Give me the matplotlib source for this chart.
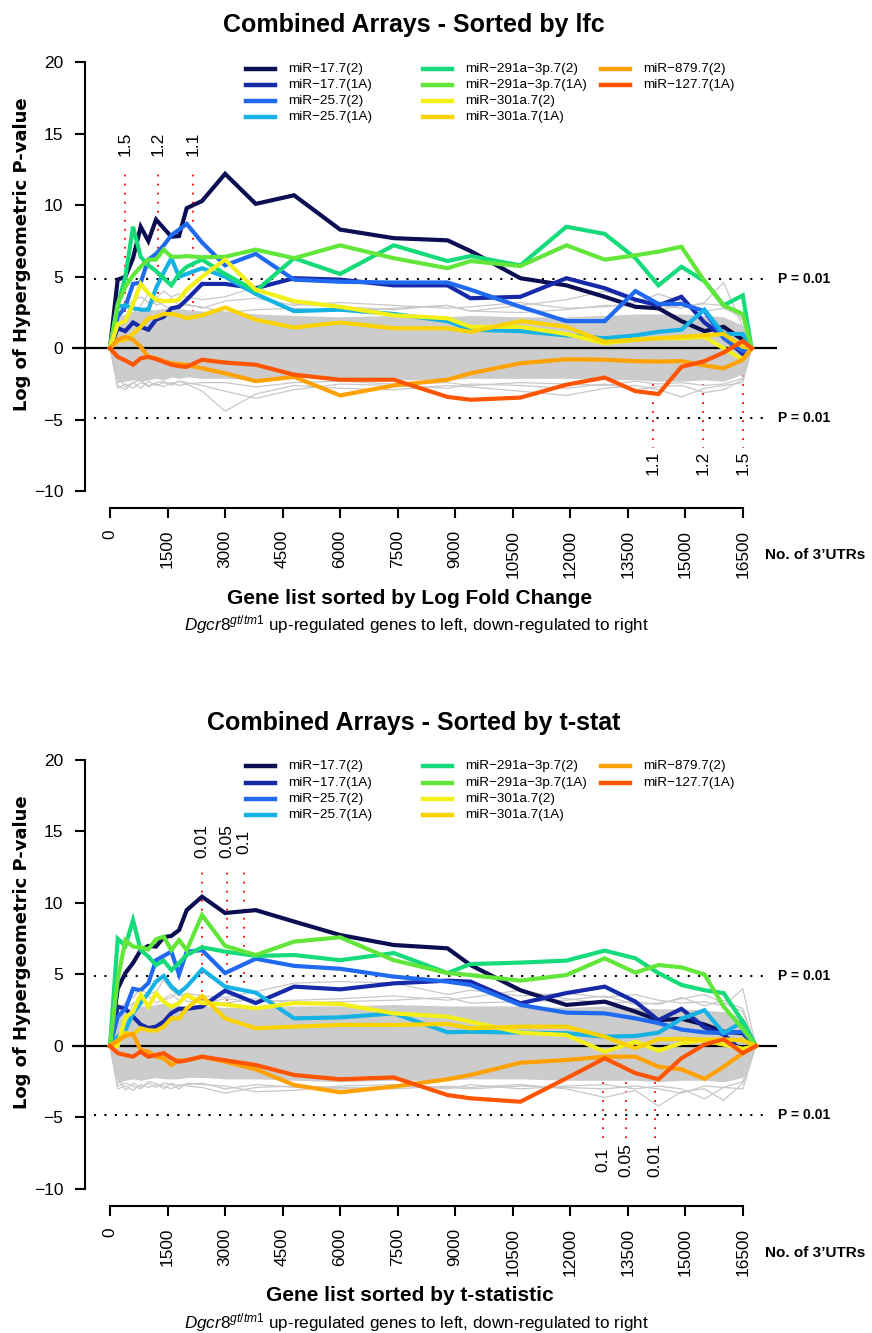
import matplotlib
matplotlib.use('Agg')
import matplotlib.pyplot as plt
from matplotlib import font_manager
from matplotlib.lines import Line2D

# x positions (number of 3'UTRs) where the curves were evaluated
X_LFC = [0, 200, 400, 600, 800, 1000, 1200, 1400, 1600, 1800, 2000, 2400, 3000, 3800, 4800, 6000, 7400,
         8800, 9400, 10700, 11900, 12900, 13700, 14300, 14900, 15500, 16000, 16500, 16730]
X_TST = [0, 200, 400, 600, 800, 1000, 1200, 1400, 1600, 1800, 2000, 2400, 3000, 3800, 4800, 6000, 7400,
         8800, 9400, 10700, 11900, 12900, 13700, 14300, 14900, 15500, 16000, 16500, 16840]

names = ['miR\u221217.7(2)', 'miR\u221217.7(1A)', 'miR\u221225.7(2)', 'miR\u221225.7(1A)',
         'miR\u2212291a\u22123p.7(2)', 'miR\u2212291a\u22123p.7(1A)', 'miR\u2212301a.7(2)',
         'miR\u2212301a.7(1A)', 'miR\u2212879.7(2)', 'miR\u2212127.7(1A)']
colors = ['#0b0f52', '#1629a8', '#1f6af0', '#16b2e4', '#15db7a', '#63e63a', '#f2f018',
          '#fad200', '#ffa100', '#ff5400']

# ---- sorted by lfc ----
lfc_17_2 = [0, 4.8, 5.0, 6.3, 8.5, 7.5, 9.0, 8.4, 7.8, 7.85, 9.8, 10.3, 12.2, 10.1, 10.7, 8.3, 7.7,
            7.55, 6.8, 4.9, 4.4, 3.6, 2.9, 2.8, 1.9, 1.2, 1.5, 0.6, 0]
lfc_17_1A = [0, 1.4, 1.2, 1.8, 1.5, 1.3, 2.0, 2.2, 2.8, 2.9, 3.4, 4.5, 4.5, 4.2, 4.9, 4.8, 4.4,
             4.4, 3.5, 3.6, 4.9, 4.2, 3.4, 3.0, 3.6, 1.8, 0.8, -0.4, 0]
lfc_25_2 = [0, 2.2, 2.9, 4.5, 4.6, 6.2, 6.6, 7.2, 7.9, 8.3, 8.7, 7.4, 5.8, 6.6, 4.8, 4.65, 4.6,
            4.6, 4.1, 2.9, 1.9, 1.9, 4.0, 3.1, 3.1, 2.6, 0.7, -0.2, 0]
lfc_25_1A = [0, 2.9, 3.0, 2.8, 2.7, 2.7, 4.2, 5.3, 6.3, 5.0, 5.2, 5.6, 5.0, 3.8, 2.6, 2.7, 2.4,
             1.9, 1.3, 1.2, 0.9, 0.7, 0.9, 1.15, 1.3, 2.7, 1.0, 1.0, 0]
lfc_291_2 = [0, 3.0, 5.0, 8.5, 6.4, 5.8, 5.4, 4.9, 4.4, 5.2, 5.7, 6.2, 5.2, 4.0, 6.3, 5.2, 7.2,
             6.1, 6.45, 5.8, 8.5, 8.0, 6.3, 4.4, 5.7, 4.7, 3.0, 3.7, 0]
lfc_291_1A = [0, 3.1, 4.3, 5.1, 5.7, 6.2, 6.2, 6.9, 6.4, 6.4, 6.45, 6.36, 6.4, 6.9, 6.3, 7.2, 6.3,
              5.6, 6.1, 5.75, 7.2, 6.2, 6.5, 6.76, 7.1, 4.7, 3.0, 2.4, 0]
lfc_301_2 = [0, 1.7, 1.9, 3.1, 4.5, 3.85, 3.4, 3.3, 3.3, 3.4, 4.1, 5.0, 6.2, 4.1, 3.3, 2.9, 2.3,
             2.1, 1.5, 1.5, 1.0, 0.35, 0.6, 0.7, 0.7, 0.8, 0.0, -0.8, 0]
lfc_301_1A = [0, 0.5, 0.6, 1.0, 1.5, 2.1, 2.2, 2.4, 2.4, 2.3, 2.1, 2.3, 2.85, 2.0, 1.45, 1.8, 1.4,
              1.4, 1.15, 1.9, 1.5, 0.45, 0.6, 0.7, 0.8, 0.9, 1.0, 0.1, 0]
lfc_879_2 = [0, 0.6, 0.8, 0.6, 0.1, -0.6, -0.7, -0.9, -1.05, -1.1, -1.15, -1.4, -1.75, -2.3, -2.0, -3.3, -2.6,
             -2.2, -1.75, -1.05, -0.77, -0.8, -0.9, -0.93, -0.9, -1.2, -1.4, -0.8, 0]
lfc_127_1A = [0, -0.6, -0.85, -1.15, -0.7, -0.6, -0.75, -0.95, -1.15, -1.25, -1.3, -0.8, -1.0, -1.15, -1.85, -2.2, -2.2,
              -3.4, -3.6, -3.45, -2.55, -2.05, -3.0, -3.2, -1.3, -0.9, -0.3, 0.5, 0]

lfc_grey_hi = [0, 2.2, 2.4, 2.6, 2.6, 2.7, 2.7, 2.8, 2.8, 2.8, 2.7, 2.6, 2.6, 2.4, 2.3, 2.2, 2.3,
               2.2, 2.3, 2.2, 2.2, 2.3, 2.4, 2.4, 2.4, 2.3, 2.2, 1.6, 0]
lfc_grey_lo = [0, -2.4, -2.3, -2.2, -2.3, -2.2, -2.1, -2.2, -2.0, -2.1, -2.0, -2.1, -2.1, -2.2, -2.0, -2.1, -2.2,
               -2.2, -2.1, -2.1, -2.1, -2.2, -2.2, -2.3, -2.3, -2.2, -2.3, -1.8, 0]
lfc_grey = [
    [0, 2.8, 3.0, 3.3, 3.6, 3.2, 3.5, 4.0, 3.6, 3.8, 3.6, 3.4, 3.6, 4.3, 3.1, 2.9, 2.7,
     3.0, 2.6, 3.0, 3.4, 4.0, 3.3, 3.0, 2.8, 3.2, 4.6, 1.5, 0],
    [0, 1.5, 2.0, 2.4, 3.0, 3.8, 3.0, 3.2, 3.5, 3.0, 3.1, 2.8, 3.3, 3.5, 3.0, 3.2, 3.0,
     2.8, 2.9, 3.2, 2.8, 2.9, 3.2, 3.8, 3.3, 2.6, 2.8, 2.2, 0],
    [0, -2.8, -2.5, -2.8, -2.4, -2.6, -2.5, -2.7, -2.4, -2.6, -2.5, -3.0, -4.4, -3.2, -2.6, -2.8, -2.9,
     -2.6, -2.7, -3.0, -3.3, -2.8, -2.6, -2.9, -3.4, -2.8, -2.6, -2.4, 0],
    [0, -2.0, -2.7, -2.4, -2.8, -2.3, -2.6, -2.4, -2.5, -2.3, -2.4, -2.6, -3.0, -3.5, -2.9, -2.5, -2.6,
     -2.8, -2.5, -2.6, -2.8, -2.5, -2.9, -2.7, -2.6, -3.1, -2.9, -2.2, 0],
    [0, 1.2, 1.8, 2.2, 2.5, 2.9, 3.3, 3.0, 2.7, 3.1, 3.0, 2.9, 2.5, 2.7, 2.8, 2.6, 2.8,
     3.0, 2.6, 2.5, 2.7, 3.0, 2.9, 2.7, 3.0, 3.1, 3.0, 2.0, 0],
    [0, -2.6, -2.9, -2.4, -2.2, -2.7, -2.4, -2.3, -2.6, -2.3, -2.5, -2.4, -2.4, -2.7, -2.4, -2.3, -2.5,
     -2.4, -2.6, -2.4, -2.5, -2.6, -2.3, -2.5, -2.4, -2.6, -2.5, -2.1, 0],
]

# ---- sorted by t-stat ----
tst_17_2 = [0, 4.0, 5.1, 5.8, 6.7, 7.0, 6.95, 7.6, 7.7, 8.1, 9.5, 10.44, 9.3, 9.5, 8.7, 7.76, 7.06,
            6.83, 5.66, 3.9, 2.87, 3.1, 2.4, 1.8, 1.9, 1.5, 1.0, 0.9, 0]
tst_17_1A = [0, 2.75, 2.6, 2.05, 1.5, 1.25, 1.35, 1.7, 2.3, 2.6, 2.6, 2.75, 3.87, 3.0, 4.15, 3.96, 4.38,
             4.57, 4.5, 2.98, 3.7, 4.15, 3.1, 1.8, 2.6, 1.3, 0.8, -0.4, 0]
tst_25_2 = [0, 2.05, 2.6, 4.0, 3.9, 4.4, 6.0, 6.3, 6.6, 5.0, 6.6, 6.7, 5.1, 6.1, 5.6, 5.4, 4.85,
            4.5, 4.27, 2.87, 2.33, 2.28, 1.93, 1.6, 1.15, 0.95, 0.9, 1.0, 0]
tst_25_1A = [0, 0.65, 1.1, 2.3, 3.0, 3.7, 4.5, 4.9, 4.15, 3.7, 4.15, 5.36, 4.15, 3.73, 1.93, 2.0, 2.28,
             0.96, 1.0, 0.93, 0.89, 0.65, 0.7, 0.93, 1.9, 2.5, 0.9, 1.7, 0]
tst_291_2 = [0, 7.5, 7.0, 8.8, 6.7, 6.25, 5.66, 5.97, 5.3, 5.8, 6.36, 6.9, 6.6, 6.3, 6.36, 6.0, 6.5,
             5.1, 5.73, 5.83, 5.97, 6.67, 6.13, 5.1, 4.27, 3.9, 3.7, 1.7, 0]
tst_291_1A = [0, 4.6, 7.4, 6.95, 6.9, 6.76, 7.46, 7.65, 6.7, 7.4, 6.7, 9.16, 7.0, 6.36, 7.3, 7.6, 6.0,
              5.1, 4.96, 4.57, 4.96, 6.13, 5.13, 5.66, 5.5, 5.0, 2.75, 1.2, 0]
tst_301_2 = [0, 0.0, 2.0, 2.4, 3.6, 2.75, 3.68, 3.1, 2.75, 3.0, 3.57, 3.0, 2.9, 2.63, 3.0, 2.94, 2.28,
             2.05, 1.7, 0.93, 0.77, -0.4, 0.3, -0.33, 0.2, 0.4, 0.1, -0.2, 0]
tst_301_1A = [0, 0.3, 0.9, 0.8, 1.24, 1.1, 1.07, 1.35, 1.93, 1.93, 2.63, 3.5, 1.93, 1.24, 1.35, 1.47, 1.47,
              1.54, 1.24, 1.35, 1.35, 0.65, -0.16, 0.47, 0.5, 0.45, 0.45, 0.4, 0]
tst_879_2 = [0, 0.4, 0.7, 0.84, -0.28, -0.4, -0.75, -0.86, -1.33, -1.0, -1.0, -0.75, -1.1, -1.63, -2.73, -3.24, -2.84,
             -2.33, -2.03, -1.17, -0.98, -0.75, -0.75, -1.45, -1.63, -2.3, -1.45, -0.5, 0]
tst_127_1A = [0, -0.5, -0.63, -0.75, -0.4, -0.75, -0.63, -0.5, -0.86, -1.1, -1.0, -0.75, -1.0, -1.33, -2.03, -2.33, -2.2,
              -3.43, -3.66, -3.9, -2.26, -0.86, -1.9, -2.33, -0.86, 0.1, 0.47, -0.5, 0]

tst_grey_hi = [0, 2.0, 2.4, 2.6, 2.8, 2.8, 2.9, 3.0, 2.9, 2.8, 2.8, 2.8, 2.7, 2.7, 2.8, 2.8, 2.9,
               2.8, 2.8, 2.8, 2.7, 2.8, 2.7, 2.6, 2.6, 2.5, 2.4, 2.0, 0]
tst_grey_lo = [0, -2.6, -2.4, -2.3, -2.4, -2.3, -2.2, -2.3, -2.3, -2.3, -2.2, -2.2, -2.3, -2.3, -2.4, -2.5, -2.4,
               -2.4, -2.3, -2.3, -2.4, -2.4, -2.4, -2.5, -2.4, -2.4, -2.5, -2.2, 0]
tst_grey = [
    [0, 2.6, 3.0, 3.4, 4.0, 3.6, 3.8, 4.6, 3.9, 3.5, 3.7, 3.5, 3.4, 3.8, 4.4, 4.5, 4.4,
     3.6, 3.9, 3.5, 3.7, 3.4, 3.6, 3.2, 3.0, 3.1, 2.8, 4.0, 0],
    [0, 1.8, 2.6, 3.0, 3.2, 3.5, 3.0, 3.3, 3.6, 3.2, 3.4, 3.0, 3.3, 3.1, 3.2, 3.3, 3.5,
     3.2, 3.4, 3.9, 3.3, 3.0, 3.1, 2.9, 3.4, 2.8, 3.2, 2.6, 0],
    [0, -3.0, -2.8, -3.1, -2.7, -2.9, -2.7, -2.8, -3.0, -2.7, -2.8, -2.9, -3.3, -2.9, -2.8, -2.9, -3.0,
     -2.8, -2.9, -2.7, -3.0, -3.6, -3.1, -4.2, -3.2, -3.0, -3.8, -2.6, 0],
    [0, -2.2, -3.1, -2.6, -2.9, -2.6, -2.9, -2.6, -2.7, -3.0, -2.6, -2.7, -2.8, -3.2, -3.1, -2.8, -2.7,
     -3.0, -2.7, -3.0, -2.8, -2.7, -3.0, -2.8, -3.0, -3.7, -2.9, -3.0, 0],
    [0, 1.4, 2.0, 2.9, 3.3, 3.0, 3.6, 3.2, 3.4, 3.8, 3.1, 3.2, 3.0, 3.3, 3.0, 3.1, 3.2,
     3.4, 3.0, 3.1, 3.2, 3.5, 2.9, 3.0, 3.3, 3.6, 3.0, 2.4, 0],
    [0, -2.8, -2.6, -2.8, -3.0, -2.5, -2.6, -3.0, -2.6, -2.8, -2.7, -2.6, -3.0, -2.7, -2.9, -3.0, -2.8,
     -2.9, -3.0, -2.8, -2.9, -3.0, -2.8, -3.0, -3.3, -2.8, -2.9, -2.5, 0],
]

lfc_series = [lfc_17_2, lfc_17_1A, lfc_25_2, lfc_25_1A, lfc_291_2, lfc_291_1A,
              lfc_301_2, lfc_301_1A, lfc_879_2, lfc_127_1A]
tst_series = [tst_17_2, tst_17_1A, tst_25_2, tst_25_1A, tst_291_2, tst_291_1A,
              tst_301_2, tst_301_1A, tst_879_2, tst_127_1A]

# cutoff markers: (x, label)
lfc_up_cuts = [(391, '1.5'), (1243, '1.2'), (2156, '1.1')]
lfc_down_cuts = [(14158, '1.1'), (15454, '1.2'), (16513, '1.5')]
tst_up_cuts = [(2407, '0.01'), (3059, '0.05'), (3494, '0.1')]
tst_down_cuts = [(12864, '0.1'), (13455, '0.05'), (14220, '0.01')]

xticks = list(range(0, 16501, 1500))
yticks = [-10, -5, 0, 5, 10, 15, 20]
P_LINE = 4.86

avail = {f.name for f in font_manager.fontManager.ttflist}
NARROW = 'Liberation Sans Narrow' if 'Liberation Sans Narrow' in avail else 'Liberation Sans'
SANS = 'Liberation Sans'

plt.rcParams['mathtext.fontset'] = 'custom'
plt.rcParams['mathtext.it'] = SANS + ':italic'
plt.rcParams['mathtext.rm'] = SANS

W, H = 872, 1333
fig = plt.figure(figsize=(W / 100, H / 100), dpi=100)


def ftxt(x, y, s, **kw):
    fig.text(x / W, 1 - y / H, s, **kw)


def panel(off, x, series, ghi, glo, greys, up_cuts, down_cuts, up_top, down_bot, title, xlabel):
    # axes box in pixels: 72..777 horizontally, off+50..off+515 vertically
    ax = fig.add_axes([72 / W, 1 - (off + 515) / H, 705 / W, 465 / H])
    ax.set_xlim(-991, 17392)
    ax.set_ylim(-11.66, 20.86)
    ax.patch.set_visible(False)

    for cx, lab in up_cuts:
        ax.plot([cx, cx], [0, up_top], color='red', lw=1.3, ls=(0, (1, 4)), zorder=1)
        ax.text(cx, 14.3, lab, rotation=90, ha='center', va='center', fontsize=12.5, family=SANS)
    for cx, lab in down_cuts:
        ax.plot([cx, cx], [0, down_bot], color='red', lw=1.3, ls=(0, (1, 4)), zorder=1)
        ax.text(cx, -8.0, lab, rotation=90, ha='center', va='center', fontsize=12.5, family=SANS)

    ax.fill_between(x, glo, ghi, color='#cccccc', lw=0, zorder=2)
    for g in greys:
        ax.plot(x, g, color='#c8c8c8', lw=0.9, zorder=2)

    ax.axhline(0, color='black', lw=1.6, zorder=3)
    for yv in (P_LINE, -P_LINE):
        ax.plot([-407, 17184], [yv, yv], color='black', lw=1.5, ls=(0, (1, 4)), zorder=3)
        ax.text(17420, yv, 'P = 0.01', ha='left', va='center', fontsize=10, family=NARROW,
                fontweight='bold', clip_on=False)

    for s, c in zip(series, colors):
        ax.plot(x, s, color=c, lw=3, zorder=4, solid_joinstyle='miter')

    for sp in ('top', 'right'):
        ax.spines[sp].set_visible(False)
    ax.spines['left'].set_position(('data', -652))
    ax.spines['left'].set_bounds(-10, 20)
    ax.spines['bottom'].set_position(('data', -11.17))
    ax.spines['bottom'].set_bounds(0, 16500)
    for sp in ('left', 'bottom'):
        ax.spines[sp].set_linewidth(1.5)

    ax.set_xticks(xticks)
    ax.set_xticklabels([str(t) for t in xticks], rotation=90, family=SANS, fontsize=12.4)
    ax.set_yticks(yticks)
    ax.set_yticklabels([str(t).replace('-', '\u2212') for t in yticks], family=SANS, fontsize=12.5)
    ax.tick_params(axis='x', direction='out', length=7.2, width=1.5, pad=8.6)
    ax.tick_params(axis='y', direction='out', length=7, width=1.5, pad=8.5)

    # legend, 4 rows x 3 columns (filled column-wise 4, 4, 2)
    rows = [68.7, 84.9, 101.1, 117.3]
    cols = [(246, 275, 288), (423, 452, 465), (601, 630, 643)]
    for i, (nm, c) in enumerate(zip(names, colors)):
        h0, h1, tx = cols[i // 4]
        yy = off + rows[i % 4]
        fig.add_artist(Line2D([h0 / W, h1 / W], [1 - yy / H, 1 - yy / H], color=c, lw=3.2,
                              transform=fig.transFigure))
        ftxt(tx, yy, nm, ha='left', va='center', fontsize=9.7, family=SANS)

    ftxt(414, off + 25, title, ha='center', va='center', fontsize=18, family=NARROW, fontweight='bold')
    ftxt(22, off + 254.5, 'Log of Hypergeometric P-value', rotation=90, ha='center', va='center',
         fontsize=13, family='DejaVu Sans', fontweight='bold')
    ftxt(765, off + 555, 'No. of 3\u2019UTRs', ha='left', va='center', fontsize=11, family=NARROW,
         fontweight='bold')
    ftxt(410, off + 598, xlabel, ha='center', va='center', fontsize=15, family=NARROW, fontweight='bold')
    ftxt(417, off + 625, r'$\mathit{Dgcr8}^{\mathit{gt/tm1}}$ up-regulated genes to left, down-regulated to right',
         ha='center', va='center', fontsize=12.3, family=SANS)
    return ax


panel(0, X_LFC, lfc_series, lfc_grey_hi, lfc_grey_lo, lfc_grey, lfc_up_cuts, lfc_down_cuts,
      12.5, -7.0, 'Combined Arrays - Sorted by lfc', 'Gene list sorted by Log Fold Change')
panel(697.7, X_TST, tst_series, tst_grey_hi, tst_grey_lo, tst_grey, tst_up_cuts, tst_down_cuts,
      12.2, -6.6, 'Combined Arrays - Sorted by t-stat', 'Gene list sorted by t-statistic')

fig.savefig('out.png', dpi=100)
